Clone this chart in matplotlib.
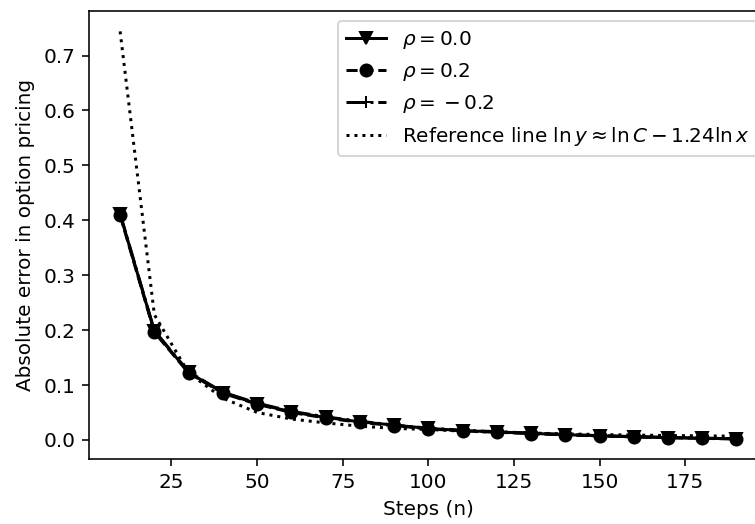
import matplotlib
matplotlib.use("Agg")
import matplotlib.pyplot as plt

steps = [10, 20, 30, 40, 50, 60, 70, 80, 90, 100, 110, 120, 130, 140, 150, 160, 170, 180, 190]

err_rho_00 = [0.411, 0.198, 0.123, 0.086, 0.066, 0.051, 0.041, 0.033, 0.027, 0.021, 0.017,
              0.0145, 0.012, 0.0095, 0.0075, 0.0058, 0.0042, 0.0030, 0.0020]
err_rho_02 = [0.409, 0.196, 0.122, 0.085, 0.065, 0.050, 0.040, 0.032, 0.026, 0.020, 0.0165,
              0.014, 0.0115, 0.009, 0.0072, 0.0055, 0.0040, 0.0028, 0.0018]
err_rho_m02 = [0.412, 0.199, 0.124, 0.087, 0.067, 0.052, 0.042, 0.034, 0.027, 0.0215, 0.0175,
               0.015, 0.0125, 0.0098, 0.0078, 0.006, 0.0045, 0.0032, 0.0022]
reference = [0.744, 0.228, 0.122, 0.076, 0.050, 0.038, 0.031, 0.025, 0.021, 0.019, 0.016,
             0.014, 0.0125, 0.011, 0.0098, 0.0088, 0.008, 0.0074, 0.0068]

dpi = 144
fig = plt.figure(figsize=(755 / dpi, 524 / dpi), dpi=dpi)
# axes runs past the right edge of the picture, as in the reference
ax = fig.add_axes([89.3 / 755, (524 - 459.3) / 524, 678 / 755, 448.3 / 524])

ax.plot(steps, err_rho_00, color="black", linestyle="-", marker="v", label=r"$\rho = 0.0$")
ax.plot(steps, err_rho_02, color="black", linestyle="--", marker="o", label=r"$\rho = 0.2$")
ax.plot(steps, err_rho_m02, color="black", linestyle="-.", marker="+", label=r"$\rho = {}-0.2$")
ax.plot(steps, reference, color="black", linestyle=":",
        label=r"Reference line $\ln y \approx \ln C - 1.24 \ln x$")

ax.set_xlabel("Steps (n)")
ax.set_ylabel("Absolute error in option pricing")
ax.legend(loc="upper right")

fig.savefig("out.png", dpi=dpi)
